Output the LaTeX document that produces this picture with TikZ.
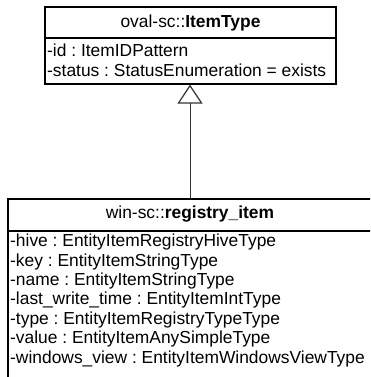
\documentclass[tikz,border=0pt]{standalone}
\usepackage{fontspec}
\setmainfont{Liberation Sans}
\usetikzlibrary{arrows.meta}
\begin{document}
\begin{tikzpicture}[x=1pt,y=1pt,
  classbox/.style={draw=black, line width=1.2pt, inner sep=0pt, minimum width=#1},
  attr/.style={anchor=base west, inner sep=0pt, font=\fontsize{17.4}{19}\selectfont\frenchspacing},
  hdr/.style={anchor=center, inner sep=0pt, font=\fontsize{17.4}{19}\selectfont\frenchspacing},
  sep/.style={draw=black, line width=1.2pt},
  inherit/.style={draw=black!80, line width=1pt, -{Triangle[open, length=19pt, width=25pt, line width=1.2pt]}}
]
\useasboundingbox (0,0) rectangle (370,377);
\clip (0,0) rectangle (370,377);
% top class
\node[classbox=291pt, minimum height=77pt] (top) at (190.5,331.5) {};
\draw[sep] (top.west |- 0,339) -- (top.east |- 0,339);
\node[hdr] (toph) at (190.5,354) {oval-sc::\textbf{ItemType}};
\node[attr] (ta1) at (47,320) {-id : ItemIDPattern};
\node[attr] (ta2) at (47,300) {-status : StatusEnumeration = exists};
% bottom class
\node[classbox=364pt, minimum height=196pt] (bot) at (190,80) {};
\draw[sep] (bot.west |- 0,146) -- (bot.east |- 0,146);
\node[hdr] (both) at (190,162.5) {win-sc::\textbf{registry\_item}};
\node[attr] (b1) at (10,130) {-hive : EntityItemRegistryHiveType};
\node[attr] (b2) at (10,110.5) {-key : EntityItemStringType};
\node[attr] (b3) at (10,91) {-name : EntityItemStringType};
\node[attr] (b4) at (10,72) {-last\_write\_time : EntityItemIntType};
\node[attr] (b5) at (10,52.5) {-type : EntityItemRegistryTypeType};
\node[attr] (b6) at (10,33) {-value : EntityItemAnySimpleType};
\node[attr] (b7) at (10,13.5) {-windows\_view : EntityItemWindowsViewType};
% generalization
\draw[inherit] (bot.north) -- (bot.north |- top.south);
\end{tikzpicture}
\end{document}
